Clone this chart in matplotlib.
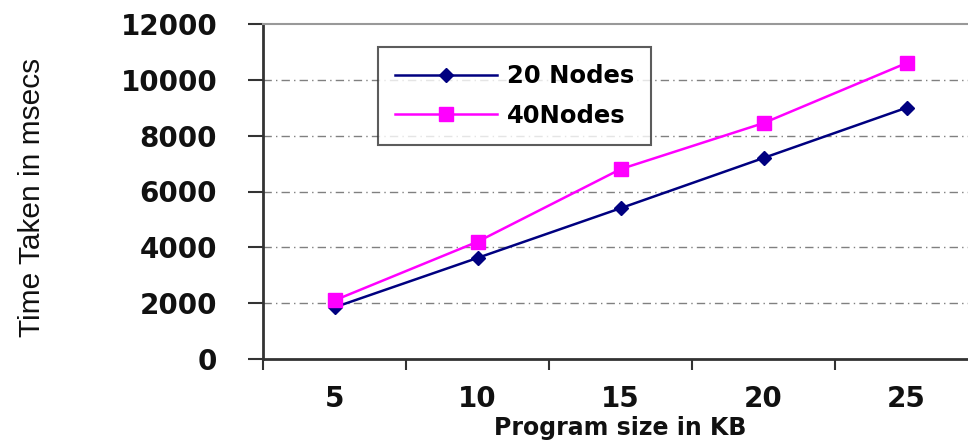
import matplotlib.pyplot as plt
import numpy as np

sizes = ["5", "10", "15", "20", "25"]
nodes20 = [1850, 3620, 5400, 7200, 9000]
nodes40 = [2100, 4200, 6800, 8450, 10600]
y_ticks = [0, 2000, 4000, 6000, 8000, 10000, 12000]

fig = plt.figure(figsize=(9.68, 4.41), dpi=100)
W, H = 968, 441
left, right, top, bottom = 263, 978, 24, 359
ax = fig.add_axes([left / W, 1 - bottom / H, (right - left) / W, (bottom - top) / H])

x = np.arange(len(sizes))
ax.plot(x, nodes20, color="#000080", lw=1.8, marker="D", ms=7.5, label="20 Nodes", zorder=3)
ax.plot(x, nodes40, color="#FF00FF", lw=1.8, marker="s", ms=10.5, label="40Nodes", zorder=3)

ax.set_xlim(-0.5, len(sizes) - 0.5)
ax.set_ylim(0, 12000)
ax.set_yticks(y_ticks)
ax.set_yticklabels([str(v) for v in y_ticks], fontsize=20, fontweight="bold", color="#111111")
ax.set_xticks(x)
ax.set_xticklabels(sizes, fontsize=20, fontweight="bold", color="#111111")
ax.set_xticks(np.arange(len(sizes) + 1) - 0.5, minor=True)
ax.tick_params(axis="x", which="major", length=0, pad=19)
ax.tick_params(axis="x", which="minor", length=8, width=1.5, color="#333333")
ax.tick_params(axis="y", length=11, width=1.5, color="#333333", pad=22)

for v in y_ticks[1:-1]:
    ax.axhline(v, color="#808080", lw=1.0, ls=(0, (6, 3, 1, 3)), zorder=1)

for s in ["left", "bottom"]:
    ax.spines[s].set_linewidth(2)
    ax.spines[s].set_color("#333333")
ax.spines["top"].set_color("#999999")
ax.spines["top"].set_linewidth(1.5)
ax.spines["right"].set_visible(False)

ax.set_xlabel("Program size in KB", fontsize=17, fontweight="bold", color="#111111")
ax.xaxis.set_label_coords((620 - left) / (right - left), -(416 - bottom) / (bottom - top))
ax.set_ylabel("Time Taken in msecs", fontsize=21.5, color="#111111", family="Liberation Sans")
ax.yaxis.set_label_coords((46 - left) / (right - left), (bottom - 197) / (bottom - top))

leg = ax.legend(loc="upper left", bbox_to_anchor=(378 / W, 1 - 47 / H),
                bbox_transform=fig.transFigure, fancybox=False, frameon=True,
                prop={"weight": "bold", "size": 17.5}, handlelength=4.2,
                labelspacing=0.65, borderpad=0.7, borderaxespad=0, handletextpad=0.4)
leg.get_frame().set_edgecolor("#333333")
leg.get_frame().set_linewidth(1.5)

fig.savefig("out.png", dpi=100)
